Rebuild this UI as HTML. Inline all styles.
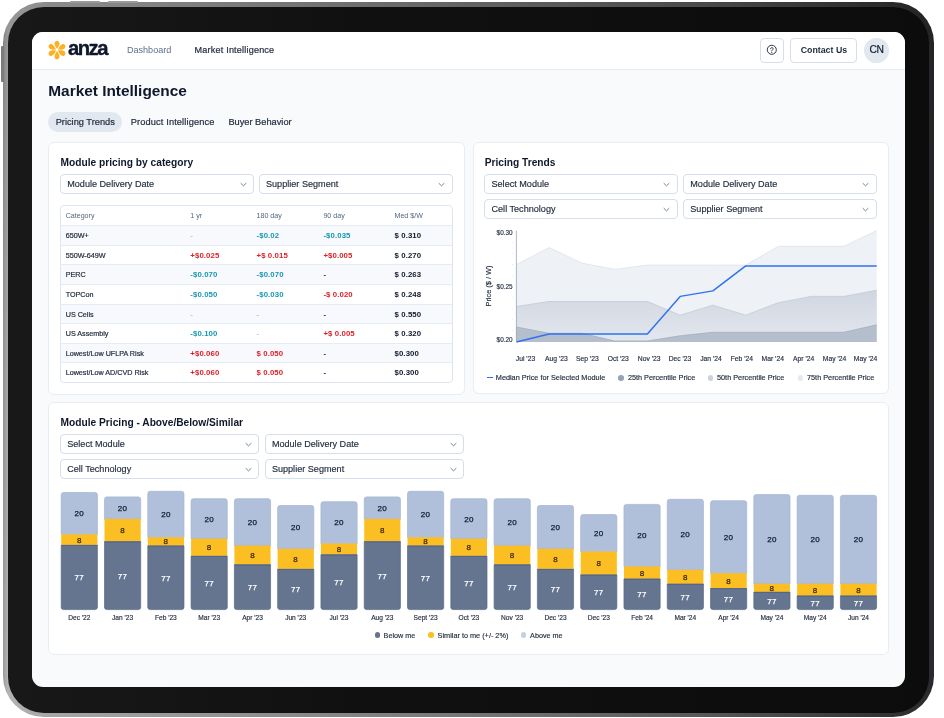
<!DOCTYPE html>
<html lang="en"><head><meta charset="utf-8"><title>Anza Market Intelligence</title>
<style>
*{box-sizing:border-box;margin:0;padding:0}
html,body{width:944px;height:718px;overflow:hidden;background:#fff}
body{position:relative;font-family:"Liberation Sans",sans-serif;color:#0f172a}
.abs{position:absolute}
.rim{position:absolute;left:2.8px;top:2.2px;width:931.2px;height:714.6px;border-radius:41px;background:linear-gradient(180deg,rgba(0,0,0,.16) 0%,rgba(0,0,0,.06) 50%,rgba(0,0,0,0) 100%),linear-gradient(90deg,#9a9a9c 0%,#b4b4b6 0.5%,#a6a6a8 5%,#929294 25%,#767678 50%,#58585a 75%,#38383a 92%,#2a2a2e 100%)}
.bezel{position:absolute;left:8.1px;top:6.8px;width:920.9px;height:706px;border-radius:36px;background:linear-gradient(90deg,#181818 0%,#101010 40%,#0c0c0c 100%)}
.btn-t{position:absolute;top:0.5px;height:2.5px;background:#9a9a9c;border-radius:1px 1px 0 0}
.btn-l{position:absolute;left:0.5px;width:3px;background:#7c7c7e;border-radius:1px 0 0 1px}
.screen{position:absolute;left:32px;top:32px;width:873px;height:655px;border-radius:11px;background:#f8fafc;overflow:hidden}
.hdr{position:absolute;left:0;top:0;width:873px;height:38px;background:#fff;border-bottom:1px solid #e6ecf3}
.t{position:absolute;white-space:nowrap;line-height:1}
.card{position:absolute;background:#fff;border:1px solid #e8edf4;border-radius:6px}
.sel{position:absolute;background:#fff;border:1px solid #d5deea;border-radius:4px}
.sel span{position:absolute;left:6.2px;top:1.1px;line-height:17.5px;font-size:9.1px;color:#1e293b;white-space:nowrap;-webkit-text-stroke:0.15px #1e293b}
.sel .chev{position:absolute;right:5.5px;top:4.9px;width:9px;height:9px}
.row{position:absolute;left:0;width:100%;height:19.6px;border-top:1px solid #e6ecf3}
.row.alt{background:#f7f9fc}
.c{position:absolute;top:0;line-height:19px;font-size:7.2px;white-space:nowrap}
.cat{left:5px;color:#1e293b;font-weight:400;-webkit-text-stroke:0.2px #1e293b}
.v{font-weight:700;font-size:7.8px;letter-spacing:0.1px}
.neg{color:#1796b3}.pos{color:#dc1f26}.dash{color:#1e293b}.fd{color:#94a3b8;font-weight:400}
.m{color:#0f172a}
.hc{color:#55657e;font-size:7.1px;font-weight:400}
</style></head><body>
<div class="rim"></div>
<div class="btn-t" style="left:70px;width:30px"></div>
<div class="btn-t" style="left:108px;width:30px"></div>
<div class="btn-l" style="top:46px;height:36px"></div>
<div class="bezel"></div>
<div class="screen">
<div class="hdr"></div>

<svg class="abs" style="left:14.7px;top:8px;width:20px;height:20px" viewBox="-10 -10 20 20"><path transform="rotate(0)" d="M0 -0.9 C-1.1 -3 -2.8 -4.6 -2.5 -6.9 C-2.3 -8.5 -1.2 -9.35 0 -9.35 C1.2 -9.35 2.3 -8.5 2.5 -6.9 C2.8 -4.6 1.1 -3 0 -0.9Z" fill="#fdb022"/><path transform="rotate(60)" d="M0 -0.9 C-1.1 -3 -2.8 -4.6 -2.5 -6.9 C-2.3 -8.5 -1.2 -9.35 0 -9.35 C1.2 -9.35 2.3 -8.5 2.5 -6.9 C2.8 -4.6 1.1 -3 0 -0.9Z" fill="#fdb022"/><path transform="rotate(120)" d="M0 -0.9 C-1.1 -3 -2.8 -4.6 -2.5 -6.9 C-2.3 -8.5 -1.2 -9.35 0 -9.35 C1.2 -9.35 2.3 -8.5 2.5 -6.9 C2.8 -4.6 1.1 -3 0 -0.9Z" fill="#fdb022"/><path transform="rotate(180)" d="M0 -0.9 C-1.1 -3 -2.8 -4.6 -2.5 -6.9 C-2.3 -8.5 -1.2 -9.35 0 -9.35 C1.2 -9.35 2.3 -8.5 2.5 -6.9 C2.8 -4.6 1.1 -3 0 -0.9Z" fill="#fdb022"/><path transform="rotate(240)" d="M0 -0.9 C-1.1 -3 -2.8 -4.6 -2.5 -6.9 C-2.3 -8.5 -1.2 -9.35 0 -9.35 C1.2 -9.35 2.3 -8.5 2.5 -6.9 C2.8 -4.6 1.1 -3 0 -0.9Z" fill="#fdb022"/><path transform="rotate(300)" d="M0 -0.9 C-1.1 -3 -2.8 -4.6 -2.5 -6.9 C-2.3 -8.5 -1.2 -9.35 0 -9.35 C1.2 -9.35 2.3 -8.5 2.5 -6.9 C2.8 -4.6 1.1 -3 0 -0.9Z" fill="#fdb022"/></svg>
<div class="t" style="left:36.0px;top:6.3px;font-size:20.3px;font-weight:700;letter-spacing:-1.55px;color:#0f172a;-webkit-text-stroke:0.35px #0f172a">anza</div>
<div class="t" style="left:94.9px;top:14.1px;font-size:9.1px;color:#5d6f8a">Dashboard</div>
<div class="t" style="left:162.6px;top:14.1px;font-size:9.1px;letter-spacing:0.18px;color:#1e293b;-webkit-text-stroke:0.2px #1e293b">Market Intelligence</div>
<div class="abs" style="left:727.5px;top:5.5px;width:24.5px;height:25px;border:1px solid #d5deea;border-radius:4px;background:#fff"><svg class="abs" style="left:5.4px;top:5.8px;width:11.6px;height:11.6px" viewBox="0 0 10 10"><circle cx="5" cy="5" r="3.9" fill="none" stroke="#1e293b" stroke-width="0.8"/><path d="M3.9 4.1 C3.9 2.7 6.1 2.7 6.1 4.1 C6.1 4.9 5 5 5 5.9" fill="none" stroke="#1e293b" stroke-width="0.8" stroke-linecap="round"/><circle cx="5" cy="7.2" r="0.5" fill="#1e293b"/></svg></div>
<div class="abs" style="left:758.4px;top:5.5px;width:66.2px;height:25px;border:1px solid #d5deea;border-radius:4px;background:#fff"></div>
<div class="t" style="left:768.7px;top:13.6px;font-size:8.8px;font-weight:700;color:#1e293b">Contact Us</div>
<div class="abs" style="left:832.2px;top:6px;width:24.6px;height:24.6px;border-radius:50%;background:#e2e8f0"></div>
<div class="t" style="left:837.4px;top:13.0px;font-size:10.3px;letter-spacing:-0.25px;color:#0f172a;-webkit-text-stroke:0.15px #0f172a">CN</div>
<div class="t" style="left:16.3px;top:50.7px;font-size:15.4px;font-weight:700;color:#0f172a">Market Intelligence</div>
<div class="abs" style="left:16.3px;top:80.1px;width:74.2px;height:19.6px;border-radius:10px;background:#e2e8f0"></div>
<div class="t" style="left:23.7px;top:85.9px;font-size:9.25px;color:#1e293b;-webkit-text-stroke:0.2px #1e293b">Pricing Trends</div>
<div class="t" style="left:98.8px;top:85.9px;font-size:9.25px;letter-spacing:0.12px;color:#1e293b;-webkit-text-stroke:0.2px #1e293b">Product Intelligence</div>
<div class="t" style="left:196.4px;top:85.9px;font-size:9.25px;color:#1e293b;-webkit-text-stroke:0.2px #1e293b">Buyer Behavior</div>
<div class="card" style="left:16.2px;top:109.6px;width:416.6px;height:253.1px"></div>
<div class="t" style="left:28.6px;top:125.7px;font-size:10.2px;font-weight:700;color:#0f172a">Module pricing by category</div>
<div class="sel" style="left:28.0px;top:141.8px;width:194.1px;height:19.8px"><span>Module Delivery Date</span><svg class="chev" viewBox="0 0 10 10"><path d="M2.2 3.8 L5 6.5 L7.8 3.8" fill="none" stroke="#64748b" stroke-width="1" stroke-linecap="round" stroke-linejoin="round"/></svg></div>
<div class="sel" style="left:226.8px;top:141.8px;width:193.79999999999998px;height:19.8px"><span>Supplier Segment</span><svg class="chev" viewBox="0 0 10 10"><path d="M2.2 3.8 L5 6.5 L7.8 3.8" fill="none" stroke="#64748b" stroke-width="1" stroke-linecap="round" stroke-linejoin="round"/></svg></div>
<div class="abs" style="left:28.0px;top:172.9px;width:392.8px;height:178px;border:1px solid #dfe6ef;border-radius:4px;background:#fff;overflow:hidden">
<div class="row" style="top:1.6px;border-top:none"><span class="c hc" style="left:4.7px">Category</span><span class="c hc" style="left:129.3px">1 yr</span><span class="c hc" style="left:195.5px">180 day</span><span class="c hc" style="left:262.4px">90 day</span><span class="c hc" style="left:333.5px">Med $/W</span></div>
<div class="row alt" style="top:19.3px"><span class="c cat" style="left:4.7px">650W+</span><span class="c v fd" style="left:129.3px">-</span><span class="c v neg" style="left:195.5px">-$0.02</span><span class="c v neg" style="left:262.4px">-$0.035</span><span class="c v m" style="left:333.5px">$ 0.310</span></div>
<div class="row" style="top:38.9px"><span class="c cat" style="left:4.7px">550W-649W</span><span class="c v pos" style="left:129.3px">+$0.025</span><span class="c v pos" style="left:195.5px">+$ 0.015</span><span class="c v pos" style="left:262.4px">+$0.005</span><span class="c v m" style="left:333.5px">$ 0.270</span></div>
<div class="row alt" style="top:58.5px"><span class="c cat" style="left:4.7px">PERC</span><span class="c v neg" style="left:129.3px">-$0.070</span><span class="c v neg" style="left:195.5px">-$0.070</span><span class="c v dash" style="left:262.4px">-</span><span class="c v m" style="left:333.5px">$ 0.263</span></div>
<div class="row" style="top:78.1px"><span class="c cat" style="left:4.7px">TOPCon</span><span class="c v neg" style="left:129.3px">-$0.050</span><span class="c v neg" style="left:195.5px">-$0.030</span><span class="c v pos" style="left:262.4px">-$ 0.020</span><span class="c v m" style="left:333.5px">$ 0.248</span></div>
<div class="row alt" style="top:97.7px"><span class="c cat" style="left:4.7px">US Cells</span><span class="c v fd" style="left:129.3px">-</span><span class="c v fd" style="left:195.5px">-</span><span class="c v dash" style="left:262.4px">-</span><span class="c v m" style="left:333.5px">$ 0.550</span></div>
<div class="row" style="top:117.3px"><span class="c cat" style="left:4.7px">US Assembly</span><span class="c v neg" style="left:129.3px">-$0.100</span><span class="c v fd" style="left:195.5px">-</span><span class="c v pos" style="left:262.4px">+$ 0.005</span><span class="c v m" style="left:333.5px">$ 0.320</span></div>
<div class="row alt" style="top:136.9px"><span class="c cat" style="left:4.7px">Lowest/Low UFLPA Risk</span><span class="c v pos" style="left:129.3px">+$0.060</span><span class="c v pos" style="left:195.5px">$ 0.050</span><span class="c v dash" style="left:262.4px">-</span><span class="c v m" style="left:333.5px">$0.300</span></div>
<div class="row" style="top:156.5px"><span class="c cat" style="left:4.7px">Lowest/Low AD/CVD Risk</span><span class="c v pos" style="left:129.3px">+$0.060</span><span class="c v pos" style="left:195.5px">$ 0.050</span><span class="c v dash" style="left:262.4px">-</span><span class="c v m" style="left:333.5px">$0.300</span></div>
</div>
<div class="card" style="left:440.6px;top:109.6px;width:416.2px;height:252.2px"></div>
<div class="t" style="left:452.7px;top:125.7px;font-size:10.2px;font-weight:700;color:#0f172a">Pricing Trends</div>
<div class="sel" style="left:452.3px;top:141.8px;width:193.6px;height:19.8px"><span>Select Module</span><svg class="chev" viewBox="0 0 10 10"><path d="M2.2 3.8 L5 6.5 L7.8 3.8" fill="none" stroke="#64748b" stroke-width="1" stroke-linecap="round" stroke-linejoin="round"/></svg></div>
<div class="sel" style="left:651.1px;top:141.8px;width:193.6px;height:19.8px"><span>Module Delivery Date</span><svg class="chev" viewBox="0 0 10 10"><path d="M2.2 3.8 L5 6.5 L7.8 3.8" fill="none" stroke="#64748b" stroke-width="1" stroke-linecap="round" stroke-linejoin="round"/></svg></div>
<div class="sel" style="left:452.3px;top:167.0px;width:193.6px;height:19.8px"><span>Cell Technology</span><svg class="chev" viewBox="0 0 10 10"><path d="M2.2 3.8 L5 6.5 L7.8 3.8" fill="none" stroke="#64748b" stroke-width="1" stroke-linecap="round" stroke-linejoin="round"/></svg></div>
<div class="sel" style="left:651.1px;top:167.0px;width:193.6px;height:19.8px"><span>Supplier Segment</span><svg class="chev" viewBox="0 0 10 10"><path d="M2.2 3.8 L5 6.5 L7.8 3.8" fill="none" stroke="#64748b" stroke-width="1" stroke-linecap="round" stroke-linejoin="round"/></svg></div>
<svg class="abs" style="left:0;top:0;width:873px;height:655px;pointer-events:none" viewBox="0 0 873 655">
<defs><linearGradient id="g50" x1="0" y1="0" x2="0" y2="1"><stop offset="0" stop-color="#d0d6e0"/><stop offset="1" stop-color="#e3e7ee"/></linearGradient></defs>
<polygon points="484.4,232.6 517.1,215.6 549.9,231.1 582.7,237.4 615.4,233.1 648.2,233.1 680.9,233.1 713.7,233.1 746.4,214.3 779.2,214.3 812.0,214.3 844.7,198.5 844.7,310.0 484.4,310.0" fill="#eef1f6"/><polyline points="484.4,232.6 517.1,215.6 549.9,231.1 582.7,237.4 615.4,233.1 648.2,233.1 680.9,233.1 713.7,233.1 746.4,214.3 779.2,214.3 812.0,214.3 844.7,198.5" fill="none" stroke="#dde3ea" stroke-width="0.8"/>
<polygon points="484.4,274.5 517.1,269.5 549.9,269.5 582.7,269.5 615.4,269.5 648.2,283.2 680.9,273.2 713.7,283.2 746.4,270.7 779.2,264.4 812.0,264.4 844.7,258.2 844.7,310.0 484.4,310.0" fill="url(#g50)"/><polyline points="484.4,274.5 517.1,269.5 549.9,269.5 582.7,269.5 615.4,269.5 648.2,283.2 680.9,273.2 713.7,283.2 746.4,270.7 779.2,264.4 812.0,264.4 844.7,258.2" fill="none" stroke="#c3cad6" stroke-width="0.8"/>
<polygon points="484.4,295.0 517.1,301.3 549.9,301.3 582.7,309.0 615.4,309.0 648.2,303.8 680.9,300.3 713.7,300.3 746.4,300.3 779.2,300.3 812.0,300.3 844.7,292.8 844.7,310.0 484.4,310.0" fill="#b4becd"/><polyline points="484.4,295.0 517.1,301.3 549.9,301.3 582.7,309.0 615.4,309.0 648.2,303.8 680.9,300.3 713.7,300.3 746.4,300.3 779.2,300.3 812.0,300.3 844.7,292.8" fill="none" stroke="#a3aebf" stroke-width="0.8"/>
<polyline points="484.4,310.0 517.1,302.0 549.9,302.0 582.7,302.0 615.4,302.0 648.2,264.4 680.9,258.9 713.7,233.9 746.4,233.9 779.2,233.9 812.0,233.9 844.7,233.9" fill="none" stroke="#2f72ee" stroke-width="1.45" stroke-linejoin="round"/>
<line x1="484.4" y1="198.5" x2="484.4" y2="310" stroke="#8e9bb0" stroke-width="0.7"/>
<rect x="479.6" y="210" width="1.2" height="0.6" fill="#cbd5e1"/>
<rect x="479.6" y="221" width="1.2" height="0.6" fill="#cbd5e1"/>
<rect x="479.6" y="232" width="1.2" height="0.6" fill="#cbd5e1"/>
<rect x="479.6" y="243" width="1.2" height="0.6" fill="#cbd5e1"/>
<rect x="479.6" y="265" width="1.2" height="0.6" fill="#cbd5e1"/>
<rect x="479.6" y="276" width="1.2" height="0.6" fill="#cbd5e1"/>
<rect x="479.6" y="287" width="1.2" height="0.6" fill="#cbd5e1"/>
<rect x="479.6" y="298" width="1.2" height="0.6" fill="#cbd5e1"/>
</svg>
<div class="t" style="left:460px;width:20.6px;text-align:right;top:198.1px;font-size:6.4px;color:#1e293b;-webkit-text-stroke:0.15px #1e293b">$0.30</div>
<div class="t" style="left:460px;width:20.6px;text-align:right;top:252.0px;font-size:6.4px;color:#1e293b;-webkit-text-stroke:0.15px #1e293b">$0.25</div>
<div class="t" style="left:460px;width:20.6px;text-align:right;top:305.4px;font-size:6.4px;color:#1e293b;-webkit-text-stroke:0.15px #1e293b">$0.20</div>
<div class="t" style="left:456.8px;top:254px;font-size:7.4px;color:#1e293b;transform:translate(-50%,-50%) rotate(-90deg);-webkit-text-stroke:0.15px #1e293b">Price ($ / W)</div>
<div class="t" style="left:493.5px;top:323.5px;font-size:6.75px;color:#1e293b;transform:translateX(-50%);-webkit-text-stroke:0.15px #1e293b">Jul '23</div>
<div class="t" style="left:524.41px;top:323.5px;font-size:6.75px;color:#1e293b;transform:translateX(-50%);-webkit-text-stroke:0.15px #1e293b">Aug '23</div>
<div class="t" style="left:555.32px;top:323.5px;font-size:6.75px;color:#1e293b;transform:translateX(-50%);-webkit-text-stroke:0.15px #1e293b">Sep '23</div>
<div class="t" style="left:586.23px;top:323.5px;font-size:6.75px;color:#1e293b;transform:translateX(-50%);-webkit-text-stroke:0.15px #1e293b">Oct '23</div>
<div class="t" style="left:617.14px;top:323.5px;font-size:6.75px;color:#1e293b;transform:translateX(-50%);-webkit-text-stroke:0.15px #1e293b">Nov '23</div>
<div class="t" style="left:648.05px;top:323.5px;font-size:6.75px;color:#1e293b;transform:translateX(-50%);-webkit-text-stroke:0.15px #1e293b">Dec '23</div>
<div class="t" style="left:678.95px;top:323.5px;font-size:6.75px;color:#1e293b;transform:translateX(-50%);-webkit-text-stroke:0.15px #1e293b">Jan '24</div>
<div class="t" style="left:709.86px;top:323.5px;font-size:6.75px;color:#1e293b;transform:translateX(-50%);-webkit-text-stroke:0.15px #1e293b">Feb '24</div>
<div class="t" style="left:740.77px;top:323.5px;font-size:6.75px;color:#1e293b;transform:translateX(-50%);-webkit-text-stroke:0.15px #1e293b">Mar '24</div>
<div class="t" style="left:771.68px;top:323.5px;font-size:6.75px;color:#1e293b;transform:translateX(-50%);-webkit-text-stroke:0.15px #1e293b">Apr '24</div>
<div class="t" style="left:802.59px;top:323.5px;font-size:6.75px;color:#1e293b;transform:translateX(-50%);-webkit-text-stroke:0.15px #1e293b">May '24</div>
<div class="t" style="left:833.5px;top:323.5px;font-size:6.75px;color:#1e293b;transform:translateX(-50%);-webkit-text-stroke:0.15px #1e293b">May '24</div>
<div class="abs" style="left:454.8px;top:345.2px;width:6px;height:1.3px;background:#2f6fed"></div>
<div class="t" style="left:463.8px;top:342.3px;font-size:7.3px;color:#1e293b;-webkit-text-stroke:0.15px #1e293b">Median Price for Selected Module</div>
<div class="abs" style="left:586.2px;top:343.2px;width:5.6px;height:5.6px;border-radius:50%;background:#94a3b8"></div>
<div class="t" style="left:595.9px;top:342.3px;font-size:7.3px;color:#1e293b;-webkit-text-stroke:0.15px #1e293b">25th Percentile Price</div>
<div class="abs" style="left:675.8px;top:343.2px;width:5.6px;height:5.6px;border-radius:50%;background:#cbd2dd"></div>
<div class="t" style="left:685px;top:342.3px;font-size:7.3px;color:#1e293b;-webkit-text-stroke:0.15px #1e293b">50th Percentile Price</div>
<div class="abs" style="left:765.5px;top:343.2px;width:5.6px;height:5.6px;border-radius:50%;background:#e6eaf0"></div>
<div class="t" style="left:775px;top:342.3px;font-size:7.3px;color:#1e293b;-webkit-text-stroke:0.15px #1e293b">75th Percentile Price</div>
<div class="card" style="left:16.2px;top:370.0px;width:840.6px;height:253px"></div>
<div class="t" style="left:28.6px;top:386.2px;font-size:10.2px;font-weight:700;color:#0f172a">Module Pricing - Above/Below/Similar</div>
<div class="sel" style="left:28.0px;top:402.2px;width:199.4px;height:19.8px"><span>Select Module</span><svg class="chev" viewBox="0 0 10 10"><path d="M2.2 3.8 L5 6.5 L7.8 3.8" fill="none" stroke="#64748b" stroke-width="1" stroke-linecap="round" stroke-linejoin="round"/></svg></div>
<div class="sel" style="left:232.7px;top:402.2px;width:199.4px;height:19.8px"><span>Module Delivery Date</span><svg class="chev" viewBox="0 0 10 10"><path d="M2.2 3.8 L5 6.5 L7.8 3.8" fill="none" stroke="#64748b" stroke-width="1" stroke-linecap="round" stroke-linejoin="round"/></svg></div>
<div class="sel" style="left:28.0px;top:427.1px;width:199.4px;height:19.8px"><span>Cell Technology</span><svg class="chev" viewBox="0 0 10 10"><path d="M2.2 3.8 L5 6.5 L7.8 3.8" fill="none" stroke="#64748b" stroke-width="1" stroke-linecap="round" stroke-linejoin="round"/></svg></div>
<div class="sel" style="left:232.7px;top:427.1px;width:199.4px;height:19.8px"><span>Supplier Segment</span><svg class="chev" viewBox="0 0 10 10"><path d="M2.2 3.8 L5 6.5 L7.8 3.8" fill="none" stroke="#64748b" stroke-width="1" stroke-linecap="round" stroke-linejoin="round"/></svg></div>
<svg class="abs" style="left:0;top:0;width:873px;height:655px" viewBox="0 0 873 655">
<path d="M29.20 502.60 L29.20 462.90 Q29.20 460.50 31.60 460.50 L63.00 460.50 Q65.40 460.50 65.40 462.90 L65.40 502.60Z" fill="#b0c0da" stroke="#a3b4d1" stroke-width="0.7"/>
<rect x="29.20" y="502.30" width="36.2" height="11.30" fill="#fbbf24"/>
<path d="M29.20 513.30 L65.40 513.30 L65.40 575.20 Q65.40 577.60 63.00 577.60 L31.60 577.60 Q29.20 577.60 29.20 575.20Z" fill="#65748f" stroke="#5a6a88" stroke-width="0.7"/>
<rect x="29.20" y="513.10" width="36.2" height="0.9" fill="#4f6390"/>
<path d="M72.49 487.20 L72.49 467.30 Q72.49 464.90 74.89 464.90 L106.29 464.90 Q108.69 464.90 108.69 467.30 L108.69 487.20Z" fill="#b0c0da" stroke="#a3b4d1" stroke-width="0.7"/>
<rect x="72.49" y="486.90" width="36.2" height="23.10" fill="#fbbf24"/>
<path d="M72.49 509.70 L108.69 509.70 L108.69 575.20 Q108.69 577.60 106.29 577.60 L74.89 577.60 Q72.49 577.60 72.49 575.20Z" fill="#65748f" stroke="#5a6a88" stroke-width="0.7"/>
<rect x="72.49" y="509.50" width="36.2" height="0.9" fill="#4f6390"/>
<path d="M115.78 505.60 L115.78 461.70 Q115.78 459.30 118.18 459.30 L149.58 459.30 Q151.98 459.30 151.98 461.70 L151.98 505.60Z" fill="#b0c0da" stroke="#a3b4d1" stroke-width="0.7"/>
<rect x="115.78" y="505.30" width="36.2" height="8.90" fill="#fbbf24"/>
<path d="M115.78 513.90 L151.98 513.90 L151.98 575.20 Q151.98 577.60 149.58 577.60 L118.18 577.60 Q115.78 577.60 115.78 575.20Z" fill="#65748f" stroke="#5a6a88" stroke-width="0.7"/>
<rect x="115.78" y="513.70" width="36.2" height="0.9" fill="#4f6390"/>
<path d="M159.07 507.00 L159.07 469.10 Q159.07 466.70 161.47 466.70 L192.87 466.70 Q195.27 466.70 195.27 469.10 L195.27 507.00Z" fill="#b0c0da" stroke="#a3b4d1" stroke-width="0.7"/>
<rect x="159.07" y="506.70" width="36.2" height="17.80" fill="#fbbf24"/>
<path d="M159.07 524.20 L195.27 524.20 L195.27 575.20 Q195.27 577.60 192.87 577.60 L161.47 577.60 Q159.07 577.60 159.07 575.20Z" fill="#65748f" stroke="#5a6a88" stroke-width="0.7"/>
<rect x="159.07" y="524.00" width="36.2" height="0.9" fill="#4f6390"/>
<path d="M202.36 513.90 L202.36 469.10 Q202.36 466.70 204.76 466.70 L236.16 466.70 Q238.56 466.70 238.56 469.10 L238.56 513.90Z" fill="#b0c0da" stroke="#a3b4d1" stroke-width="0.7"/>
<rect x="202.36" y="513.60" width="36.2" height="19.50" fill="#fbbf24"/>
<path d="M202.36 532.80 L238.56 532.80 L238.56 575.20 Q238.56 577.60 236.16 577.60 L204.76 577.60 Q202.36 577.60 202.36 575.20Z" fill="#65748f" stroke="#5a6a88" stroke-width="0.7"/>
<rect x="202.36" y="532.60" width="36.2" height="0.9" fill="#4f6390"/>
<path d="M245.64 517.10 L245.64 475.90 Q245.64 473.50 248.04 473.50 L279.44 473.50 Q281.84 473.50 281.84 475.90 L281.84 517.10Z" fill="#b0c0da" stroke="#a3b4d1" stroke-width="0.7"/>
<rect x="245.64" y="516.80" width="36.2" height="20.80" fill="#fbbf24"/>
<path d="M245.64 537.30 L281.84 537.30 L281.84 575.20 Q281.84 577.60 279.44 577.60 L248.04 577.60 Q245.64 577.60 245.64 575.20Z" fill="#65748f" stroke="#5a6a88" stroke-width="0.7"/>
<rect x="245.64" y="537.10" width="36.2" height="0.9" fill="#4f6390"/>
<path d="M288.93 511.80 L288.93 472.10 Q288.93 469.70 291.33 469.70 L322.73 469.70 Q325.13 469.70 325.13 472.10 L325.13 511.80Z" fill="#b0c0da" stroke="#a3b4d1" stroke-width="0.7"/>
<rect x="288.93" y="511.50" width="36.2" height="11.60" fill="#fbbf24"/>
<path d="M288.93 522.80 L325.13 522.80 L325.13 575.20 Q325.13 577.60 322.73 577.60 L291.33 577.60 Q288.93 577.60 288.93 575.20Z" fill="#65748f" stroke="#5a6a88" stroke-width="0.7"/>
<rect x="288.93" y="522.60" width="36.2" height="0.9" fill="#4f6390"/>
<path d="M332.22 487.20 L332.22 467.30 Q332.22 464.90 334.62 464.90 L366.02 464.90 Q368.42 464.90 368.42 467.30 L368.42 487.20Z" fill="#b0c0da" stroke="#a3b4d1" stroke-width="0.7"/>
<rect x="332.22" y="486.90" width="36.2" height="23.10" fill="#fbbf24"/>
<path d="M332.22 509.70 L368.42 509.70 L368.42 575.20 Q368.42 577.60 366.02 577.60 L334.62 577.60 Q332.22 577.60 332.22 575.20Z" fill="#65748f" stroke="#5a6a88" stroke-width="0.7"/>
<rect x="332.22" y="509.50" width="36.2" height="0.9" fill="#4f6390"/>
<path d="M375.51 505.60 L375.51 461.70 Q375.51 459.30 377.91 459.30 L409.31 459.30 Q411.71 459.30 411.71 461.70 L411.71 505.60Z" fill="#b0c0da" stroke="#a3b4d1" stroke-width="0.7"/>
<rect x="375.51" y="505.30" width="36.2" height="8.90" fill="#fbbf24"/>
<path d="M375.51 513.90 L411.71 513.90 L411.71 575.20 Q411.71 577.60 409.31 577.60 L377.91 577.60 Q375.51 577.60 375.51 575.20Z" fill="#65748f" stroke="#5a6a88" stroke-width="0.7"/>
<rect x="375.51" y="513.70" width="36.2" height="0.9" fill="#4f6390"/>
<path d="M418.80 507.00 L418.80 469.10 Q418.80 466.70 421.20 466.70 L452.60 466.70 Q455.00 466.70 455.00 469.10 L455.00 507.00Z" fill="#b0c0da" stroke="#a3b4d1" stroke-width="0.7"/>
<rect x="418.80" y="506.70" width="36.2" height="17.80" fill="#fbbf24"/>
<path d="M418.80 524.20 L455.00 524.20 L455.00 575.20 Q455.00 577.60 452.60 577.60 L421.20 577.60 Q418.80 577.60 418.80 575.20Z" fill="#65748f" stroke="#5a6a88" stroke-width="0.7"/>
<rect x="418.80" y="524.00" width="36.2" height="0.9" fill="#4f6390"/>
<path d="M462.09 513.90 L462.09 469.10 Q462.09 466.70 464.49 466.70 L495.89 466.70 Q498.29 466.70 498.29 469.10 L498.29 513.90Z" fill="#b0c0da" stroke="#a3b4d1" stroke-width="0.7"/>
<rect x="462.09" y="513.60" width="36.2" height="19.50" fill="#fbbf24"/>
<path d="M462.09 532.80 L498.29 532.80 L498.29 575.20 Q498.29 577.60 495.89 577.60 L464.49 577.60 Q462.09 577.60 462.09 575.20Z" fill="#65748f" stroke="#5a6a88" stroke-width="0.7"/>
<rect x="462.09" y="532.60" width="36.2" height="0.9" fill="#4f6390"/>
<path d="M505.38 517.10 L505.38 475.90 Q505.38 473.50 507.78 473.50 L539.18 473.50 Q541.58 473.50 541.58 475.90 L541.58 517.10Z" fill="#b0c0da" stroke="#a3b4d1" stroke-width="0.7"/>
<rect x="505.38" y="516.80" width="36.2" height="20.80" fill="#fbbf24"/>
<path d="M505.38 537.30 L541.58 537.30 L541.58 575.20 Q541.58 577.60 539.18 577.60 L507.78 577.60 Q505.38 577.60 505.38 575.20Z" fill="#65748f" stroke="#5a6a88" stroke-width="0.7"/>
<rect x="505.38" y="537.10" width="36.2" height="0.9" fill="#4f6390"/>
<path d="M548.67 519.80 L548.67 485.00 Q548.67 482.60 551.07 482.60 L582.47 482.60 Q584.87 482.60 584.87 485.00 L584.87 519.80Z" fill="#b0c0da" stroke="#a3b4d1" stroke-width="0.7"/>
<rect x="548.67" y="519.50" width="36.2" height="23.70" fill="#fbbf24"/>
<path d="M548.67 542.90 L584.87 542.90 L584.87 575.20 Q584.87 577.60 582.47 577.60 L551.07 577.60 Q548.67 577.60 548.67 575.20Z" fill="#65748f" stroke="#5a6a88" stroke-width="0.7"/>
<rect x="548.67" y="542.70" width="36.2" height="0.9" fill="#4f6390"/>
<path d="M591.96 534.70 L591.96 474.80 Q591.96 472.40 594.36 472.40 L625.76 472.40 Q628.16 472.40 628.16 474.80 L628.16 534.70Z" fill="#b0c0da" stroke="#a3b4d1" stroke-width="0.7"/>
<rect x="591.96" y="534.40" width="36.2" height="12.90" fill="#fbbf24"/>
<path d="M591.96 547.00 L628.16 547.00 L628.16 575.20 Q628.16 577.60 625.76 577.60 L594.36 577.60 Q591.96 577.60 591.96 575.20Z" fill="#65748f" stroke="#5a6a88" stroke-width="0.7"/>
<rect x="591.96" y="546.80" width="36.2" height="0.9" fill="#4f6390"/>
<path d="M635.24 538.10 L635.24 469.70 Q635.24 467.30 637.64 467.30 L669.04 467.30 Q671.44 467.30 671.44 469.70 L671.44 538.10Z" fill="#b0c0da" stroke="#a3b4d1" stroke-width="0.7"/>
<rect x="635.24" y="537.80" width="36.2" height="14.60" fill="#fbbf24"/>
<path d="M635.24 552.10 L671.44 552.10 L671.44 575.20 Q671.44 577.60 669.04 577.60 L637.64 577.60 Q635.24 577.60 635.24 575.20Z" fill="#65748f" stroke="#5a6a88" stroke-width="0.7"/>
<rect x="635.24" y="551.90" width="36.2" height="0.9" fill="#4f6390"/>
<path d="M678.53 541.50 L678.53 471.10 Q678.53 468.70 680.93 468.70 L712.33 468.70 Q714.73 468.70 714.73 471.10 L714.73 541.50Z" fill="#b0c0da" stroke="#a3b4d1" stroke-width="0.7"/>
<rect x="678.53" y="541.20" width="36.2" height="15.60" fill="#fbbf24"/>
<path d="M678.53 556.50 L714.73 556.50 L714.73 575.20 Q714.73 577.60 712.33 577.60 L680.93 577.60 Q678.53 577.60 678.53 575.20Z" fill="#65748f" stroke="#5a6a88" stroke-width="0.7"/>
<rect x="678.53" y="556.30" width="36.2" height="0.9" fill="#4f6390"/>
<path d="M721.82 552.00 L721.82 465.00 Q721.82 462.60 724.22 462.60 L755.62 462.60 Q758.02 462.60 758.02 465.00 L758.02 552.00Z" fill="#b0c0da" stroke="#a3b4d1" stroke-width="0.7"/>
<rect x="721.82" y="551.70" width="36.2" height="8.80" fill="#fbbf24"/>
<path d="M721.82 560.20 L758.02 560.20 L758.02 575.20 Q758.02 577.60 755.62 577.60 L724.22 577.60 Q721.82 577.60 721.82 575.20Z" fill="#65748f" stroke="#5a6a88" stroke-width="0.7"/>
<rect x="721.82" y="560.00" width="36.2" height="0.9" fill="#4f6390"/>
<path d="M765.11 552.00 L765.11 465.70 Q765.11 463.30 767.51 463.30 L798.91 463.30 Q801.31 463.30 801.31 465.70 L801.31 552.00Z" fill="#b0c0da" stroke="#a3b4d1" stroke-width="0.7"/>
<rect x="765.11" y="551.70" width="36.2" height="12.50" fill="#fbbf24"/>
<path d="M765.11 563.90 L801.31 563.90 L801.31 575.20 Q801.31 577.60 798.91 577.60 L767.51 577.60 Q765.11 577.60 765.11 575.20Z" fill="#65748f" stroke="#5a6a88" stroke-width="0.7"/>
<rect x="765.11" y="563.70" width="36.2" height="0.9" fill="#4f6390"/>
<path d="M808.40 552.00 L808.40 465.70 Q808.40 463.30 810.80 463.30 L842.20 463.30 Q844.60 463.30 844.60 465.70 L844.60 552.00Z" fill="#b0c0da" stroke="#a3b4d1" stroke-width="0.7"/>
<rect x="808.40" y="551.70" width="36.2" height="12.50" fill="#fbbf24"/>
<path d="M808.40 563.90 L844.60 563.90 L844.60 575.20 Q844.60 577.60 842.20 577.60 L810.80 577.60 Q808.40 577.60 808.40 575.20Z" fill="#65748f" stroke="#5a6a88" stroke-width="0.7"/>
<rect x="808.40" y="563.70" width="36.2" height="0.9" fill="#4f6390"/>
</svg>
<div class="t" style="left:47.3px;top:478.2px;font-size:8px;letter-spacing:0.3px;color:#0f172a;transform:translateX(-50%);-webkit-text-stroke:0.25px #0f172a">20</div>
<div class="t" style="left:47.3px;top:504.6px;font-size:8px;letter-spacing:0.3px;color:#3b2a05;transform:translateX(-50%);-webkit-text-stroke:0.25px #3b2a05">8</div>
<div class="t" style="left:47.3px;top:542.2px;font-size:8px;letter-spacing:0.3px;color:#ffffff;transform:translateX(-50%);-webkit-text-stroke:0.25px #ffffff">77</div>
<div class="t" style="left:47.3px;top:582.5px;font-size:6.6px;color:#1e293b;transform:translateX(-50%);-webkit-text-stroke:0.15px #1e293b">Dec '22</div>
<div class="t" style="left:90.6px;top:472.7px;font-size:8px;letter-spacing:0.3px;color:#0f172a;transform:translateX(-50%);-webkit-text-stroke:0.25px #0f172a">20</div>
<div class="t" style="left:90.6px;top:495.1px;font-size:8px;letter-spacing:0.3px;color:#3b2a05;transform:translateX(-50%);-webkit-text-stroke:0.25px #3b2a05">8</div>
<div class="t" style="left:90.6px;top:540.5px;font-size:8px;letter-spacing:0.3px;color:#ffffff;transform:translateX(-50%);-webkit-text-stroke:0.25px #ffffff">77</div>
<div class="t" style="left:90.6px;top:582.5px;font-size:6.6px;color:#1e293b;transform:translateX(-50%);-webkit-text-stroke:0.15px #1e293b">Jan '23</div>
<div class="t" style="left:133.9px;top:479.1px;font-size:8px;letter-spacing:0.3px;color:#0f172a;transform:translateX(-50%);-webkit-text-stroke:0.25px #0f172a">20</div>
<div class="t" style="left:133.9px;top:506.4px;font-size:8px;letter-spacing:0.3px;color:#3b2a05;transform:translateX(-50%);-webkit-text-stroke:0.25px #3b2a05">8</div>
<div class="t" style="left:133.9px;top:542.5px;font-size:8px;letter-spacing:0.3px;color:#ffffff;transform:translateX(-50%);-webkit-text-stroke:0.25px #ffffff">77</div>
<div class="t" style="left:133.9px;top:582.5px;font-size:6.6px;color:#1e293b;transform:translateX(-50%);-webkit-text-stroke:0.15px #1e293b">Feb '23</div>
<div class="t" style="left:177.2px;top:483.5px;font-size:8px;letter-spacing:0.3px;color:#0f172a;transform:translateX(-50%);-webkit-text-stroke:0.25px #0f172a">20</div>
<div class="t" style="left:177.2px;top:512.2px;font-size:8px;letter-spacing:0.3px;color:#3b2a05;transform:translateX(-50%);-webkit-text-stroke:0.25px #3b2a05">8</div>
<div class="t" style="left:177.2px;top:547.7px;font-size:8px;letter-spacing:0.3px;color:#ffffff;transform:translateX(-50%);-webkit-text-stroke:0.25px #ffffff">77</div>
<div class="t" style="left:177.2px;top:582.5px;font-size:6.6px;color:#1e293b;transform:translateX(-50%);-webkit-text-stroke:0.15px #1e293b">Mar '23</div>
<div class="t" style="left:220.5px;top:486.9px;font-size:8px;letter-spacing:0.3px;color:#0f172a;transform:translateX(-50%);-webkit-text-stroke:0.25px #0f172a">20</div>
<div class="t" style="left:220.5px;top:520.0px;font-size:8px;letter-spacing:0.3px;color:#3b2a05;transform:translateX(-50%);-webkit-text-stroke:0.25px #3b2a05">8</div>
<div class="t" style="left:220.5px;top:552.0px;font-size:8px;letter-spacing:0.3px;color:#ffffff;transform:translateX(-50%);-webkit-text-stroke:0.25px #ffffff">77</div>
<div class="t" style="left:220.5px;top:582.5px;font-size:6.6px;color:#1e293b;transform:translateX(-50%);-webkit-text-stroke:0.15px #1e293b">Apr '23</div>
<div class="t" style="left:263.7px;top:491.9px;font-size:8px;letter-spacing:0.3px;color:#0f172a;transform:translateX(-50%);-webkit-text-stroke:0.25px #0f172a">20</div>
<div class="t" style="left:263.7px;top:523.9px;font-size:8px;letter-spacing:0.3px;color:#3b2a05;transform:translateX(-50%);-webkit-text-stroke:0.25px #3b2a05">8</div>
<div class="t" style="left:263.7px;top:554.2px;font-size:8px;letter-spacing:0.3px;color:#ffffff;transform:translateX(-50%);-webkit-text-stroke:0.25px #ffffff">77</div>
<div class="t" style="left:263.7px;top:582.5px;font-size:6.6px;color:#1e293b;transform:translateX(-50%);-webkit-text-stroke:0.15px #1e293b">Jun '23</div>
<div class="t" style="left:307.0px;top:487.4px;font-size:8px;letter-spacing:0.3px;color:#0f172a;transform:translateX(-50%);-webkit-text-stroke:0.25px #0f172a">20</div>
<div class="t" style="left:307.0px;top:514.0px;font-size:8px;letter-spacing:0.3px;color:#3b2a05;transform:translateX(-50%);-webkit-text-stroke:0.25px #3b2a05">8</div>
<div class="t" style="left:307.0px;top:547.0px;font-size:8px;letter-spacing:0.3px;color:#ffffff;transform:translateX(-50%);-webkit-text-stroke:0.25px #ffffff">77</div>
<div class="t" style="left:307.0px;top:582.5px;font-size:6.6px;color:#1e293b;transform:translateX(-50%);-webkit-text-stroke:0.15px #1e293b">Jul '23</div>
<div class="t" style="left:350.3px;top:472.7px;font-size:8px;letter-spacing:0.3px;color:#0f172a;transform:translateX(-50%);-webkit-text-stroke:0.25px #0f172a">20</div>
<div class="t" style="left:350.3px;top:495.1px;font-size:8px;letter-spacing:0.3px;color:#3b2a05;transform:translateX(-50%);-webkit-text-stroke:0.25px #3b2a05">8</div>
<div class="t" style="left:350.3px;top:540.5px;font-size:8px;letter-spacing:0.3px;color:#ffffff;transform:translateX(-50%);-webkit-text-stroke:0.25px #ffffff">77</div>
<div class="t" style="left:350.3px;top:582.5px;font-size:6.6px;color:#1e293b;transform:translateX(-50%);-webkit-text-stroke:0.15px #1e293b">Aug '23</div>
<div class="t" style="left:393.6px;top:479.1px;font-size:8px;letter-spacing:0.3px;color:#0f172a;transform:translateX(-50%);-webkit-text-stroke:0.25px #0f172a">20</div>
<div class="t" style="left:393.6px;top:506.4px;font-size:8px;letter-spacing:0.3px;color:#3b2a05;transform:translateX(-50%);-webkit-text-stroke:0.25px #3b2a05">8</div>
<div class="t" style="left:393.6px;top:542.5px;font-size:8px;letter-spacing:0.3px;color:#ffffff;transform:translateX(-50%);-webkit-text-stroke:0.25px #ffffff">77</div>
<div class="t" style="left:393.6px;top:582.5px;font-size:6.6px;color:#1e293b;transform:translateX(-50%);-webkit-text-stroke:0.15px #1e293b">Sept '23</div>
<div class="t" style="left:436.9px;top:483.5px;font-size:8px;letter-spacing:0.3px;color:#0f172a;transform:translateX(-50%);-webkit-text-stroke:0.25px #0f172a">20</div>
<div class="t" style="left:436.9px;top:512.2px;font-size:8px;letter-spacing:0.3px;color:#3b2a05;transform:translateX(-50%);-webkit-text-stroke:0.25px #3b2a05">8</div>
<div class="t" style="left:436.9px;top:547.7px;font-size:8px;letter-spacing:0.3px;color:#ffffff;transform:translateX(-50%);-webkit-text-stroke:0.25px #ffffff">77</div>
<div class="t" style="left:436.9px;top:582.5px;font-size:6.6px;color:#1e293b;transform:translateX(-50%);-webkit-text-stroke:0.15px #1e293b">Oct '23</div>
<div class="t" style="left:480.2px;top:486.9px;font-size:8px;letter-spacing:0.3px;color:#0f172a;transform:translateX(-50%);-webkit-text-stroke:0.25px #0f172a">20</div>
<div class="t" style="left:480.2px;top:520.0px;font-size:8px;letter-spacing:0.3px;color:#3b2a05;transform:translateX(-50%);-webkit-text-stroke:0.25px #3b2a05">8</div>
<div class="t" style="left:480.2px;top:552.0px;font-size:8px;letter-spacing:0.3px;color:#ffffff;transform:translateX(-50%);-webkit-text-stroke:0.25px #ffffff">77</div>
<div class="t" style="left:480.2px;top:582.5px;font-size:6.6px;color:#1e293b;transform:translateX(-50%);-webkit-text-stroke:0.15px #1e293b">Nov '23</div>
<div class="t" style="left:523.5px;top:491.9px;font-size:8px;letter-spacing:0.3px;color:#0f172a;transform:translateX(-50%);-webkit-text-stroke:0.25px #0f172a">20</div>
<div class="t" style="left:523.5px;top:523.9px;font-size:8px;letter-spacing:0.3px;color:#3b2a05;transform:translateX(-50%);-webkit-text-stroke:0.25px #3b2a05">8</div>
<div class="t" style="left:523.5px;top:554.2px;font-size:8px;letter-spacing:0.3px;color:#ffffff;transform:translateX(-50%);-webkit-text-stroke:0.25px #ffffff">77</div>
<div class="t" style="left:523.5px;top:582.5px;font-size:6.6px;color:#1e293b;transform:translateX(-50%);-webkit-text-stroke:0.15px #1e293b">Dec '23</div>
<div class="t" style="left:566.8px;top:497.9px;font-size:8px;letter-spacing:0.3px;color:#0f172a;transform:translateX(-50%);-webkit-text-stroke:0.25px #0f172a">20</div>
<div class="t" style="left:566.8px;top:528.0px;font-size:8px;letter-spacing:0.3px;color:#3b2a05;transform:translateX(-50%);-webkit-text-stroke:0.25px #3b2a05">8</div>
<div class="t" style="left:566.8px;top:557.0px;font-size:8px;letter-spacing:0.3px;color:#ffffff;transform:translateX(-50%);-webkit-text-stroke:0.25px #ffffff">77</div>
<div class="t" style="left:566.8px;top:582.5px;font-size:6.6px;color:#1e293b;transform:translateX(-50%);-webkit-text-stroke:0.15px #1e293b">Dec '23</div>
<div class="t" style="left:610.1px;top:500.2px;font-size:8px;letter-spacing:0.3px;color:#0f172a;transform:translateX(-50%);-webkit-text-stroke:0.25px #0f172a">20</div>
<div class="t" style="left:610.1px;top:537.5px;font-size:8px;letter-spacing:0.3px;color:#3b2a05;transform:translateX(-50%);-webkit-text-stroke:0.25px #3b2a05">8</div>
<div class="t" style="left:610.1px;top:559.1px;font-size:8px;letter-spacing:0.3px;color:#ffffff;transform:translateX(-50%);-webkit-text-stroke:0.25px #ffffff">77</div>
<div class="t" style="left:610.1px;top:582.5px;font-size:6.6px;color:#1e293b;transform:translateX(-50%);-webkit-text-stroke:0.15px #1e293b">Feb '24</div>
<div class="t" style="left:653.3px;top:499.4px;font-size:8px;letter-spacing:0.3px;color:#0f172a;transform:translateX(-50%);-webkit-text-stroke:0.25px #0f172a">20</div>
<div class="t" style="left:653.3px;top:541.8px;font-size:8px;letter-spacing:0.3px;color:#3b2a05;transform:translateX(-50%);-webkit-text-stroke:0.25px #3b2a05">8</div>
<div class="t" style="left:653.3px;top:561.6px;font-size:8px;letter-spacing:0.3px;color:#ffffff;transform:translateX(-50%);-webkit-text-stroke:0.25px #ffffff">77</div>
<div class="t" style="left:653.3px;top:582.5px;font-size:6.6px;color:#1e293b;transform:translateX(-50%);-webkit-text-stroke:0.15px #1e293b">Mar '24</div>
<div class="t" style="left:696.6px;top:501.8px;font-size:8px;letter-spacing:0.3px;color:#0f172a;transform:translateX(-50%);-webkit-text-stroke:0.25px #0f172a">20</div>
<div class="t" style="left:696.6px;top:545.6px;font-size:8px;letter-spacing:0.3px;color:#3b2a05;transform:translateX(-50%);-webkit-text-stroke:0.25px #3b2a05">8</div>
<div class="t" style="left:696.6px;top:563.9px;font-size:8px;letter-spacing:0.3px;color:#ffffff;transform:translateX(-50%);-webkit-text-stroke:0.25px #ffffff">77</div>
<div class="t" style="left:696.6px;top:582.5px;font-size:6.6px;color:#1e293b;transform:translateX(-50%);-webkit-text-stroke:0.15px #1e293b">Apr '24</div>
<div class="t" style="left:739.9px;top:503.9px;font-size:8px;letter-spacing:0.3px;color:#0f172a;transform:translateX(-50%);-webkit-text-stroke:0.25px #0f172a">20</div>
<div class="t" style="left:739.9px;top:552.8px;font-size:8px;letter-spacing:0.3px;color:#3b2a05;transform:translateX(-50%);-webkit-text-stroke:0.25px #3b2a05">8</div>
<div class="t" style="left:739.9px;top:565.7px;font-size:8px;letter-spacing:0.3px;color:#ffffff;transform:translateX(-50%);-webkit-text-stroke:0.25px #ffffff">77</div>
<div class="t" style="left:739.9px;top:582.5px;font-size:6.6px;color:#1e293b;transform:translateX(-50%);-webkit-text-stroke:0.15px #1e293b">May '24</div>
<div class="t" style="left:783.2px;top:504.3px;font-size:8px;letter-spacing:0.3px;color:#0f172a;transform:translateX(-50%);-webkit-text-stroke:0.25px #0f172a">20</div>
<div class="t" style="left:783.2px;top:554.6px;font-size:8px;letter-spacing:0.3px;color:#3b2a05;transform:translateX(-50%);-webkit-text-stroke:0.25px #3b2a05">8</div>
<div class="t" style="left:783.2px;top:567.5px;font-size:8px;letter-spacing:0.3px;color:#ffffff;transform:translateX(-50%);-webkit-text-stroke:0.25px #ffffff">77</div>
<div class="t" style="left:783.2px;top:582.5px;font-size:6.6px;color:#1e293b;transform:translateX(-50%);-webkit-text-stroke:0.15px #1e293b">May '24</div>
<div class="t" style="left:826.5px;top:504.3px;font-size:8px;letter-spacing:0.3px;color:#0f172a;transform:translateX(-50%);-webkit-text-stroke:0.25px #0f172a">20</div>
<div class="t" style="left:826.5px;top:554.6px;font-size:8px;letter-spacing:0.3px;color:#3b2a05;transform:translateX(-50%);-webkit-text-stroke:0.25px #3b2a05">8</div>
<div class="t" style="left:826.5px;top:567.5px;font-size:8px;letter-spacing:0.3px;color:#ffffff;transform:translateX(-50%);-webkit-text-stroke:0.25px #ffffff">77</div>
<div class="t" style="left:826.5px;top:582.5px;font-size:6.6px;color:#1e293b;transform:translateX(-50%);-webkit-text-stroke:0.15px #1e293b">Jun '24</div>
<div class="abs" style="left:342.8px;top:600.3px;width:5.6px;height:5.6px;border-radius:50%;background:#64748f"></div>
<div class="t" style="left:351.6px;top:599.5px;font-size:7.2px;color:#1e293b;-webkit-text-stroke:0.15px #1e293b">Below me</div>
<div class="abs" style="left:396.2px;top:600.3px;width:5.6px;height:5.6px;border-radius:50%;background:#fbbf24"></div>
<div class="t" style="left:405.6px;top:599.5px;font-size:7.3px;color:#1e293b;-webkit-text-stroke:0.15px #1e293b">Similar to me (+/- 2%)</div>
<div class="abs" style="left:488.8px;top:600.3px;width:5.6px;height:5.6px;border-radius:50%;background:#c5d0e3"></div>
<div class="t" style="left:498.1px;top:599.5px;font-size:7.2px;color:#1e293b;-webkit-text-stroke:0.15px #1e293b">Above me</div>
</div></body></html>
